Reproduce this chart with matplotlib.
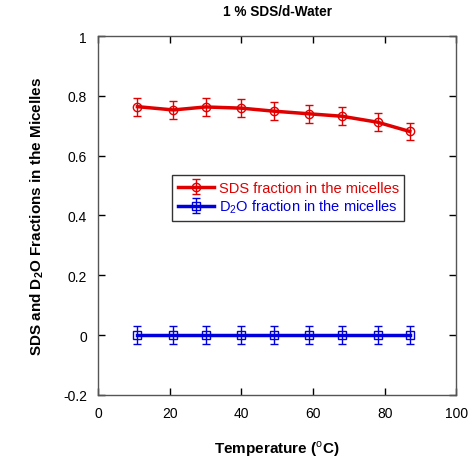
import matplotlib.pyplot as plt
import numpy as np

plt.rcParams["font.family"] = ["Liberation Sans", "DejaVu Sans"]
plt.rcParams["mathtext.fontset"] = "custom"
plt.rcParams["mathtext.rm"] = "Liberation Sans"
plt.rcParams["mathtext.bf"] = "Liberation Sans:bold"

temperature = [11, 21, 30, 40, 49, 59, 68, 78, 87]
sds_fraction = [0.764, 0.753, 0.763, 0.759, 0.749, 0.740, 0.732, 0.712, 0.681]
sds_err = [0.03] * 9
d2o_fraction = [0.0] * 9
d2o_err = [0.03] * 9

fig = plt.figure(figsize=(4.69, 4.64), dpi=100)
ax = fig.add_axes([0.209, 0.147, 0.764, 0.773])

ax.errorbar(temperature, sds_fraction, yerr=sds_err, color="#e00000",
            linewidth=2.5, marker="o", markersize=6, markerfacecolor="none",
            markeredgewidth=1.0, elinewidth=1.0, capsize=3, capthick=1.0,
            label="SDS fraction in the micelles")
ax.errorbar(temperature, d2o_fraction, yerr=d2o_err, color="#0000dd",
            linewidth=2.5, marker="s", markersize=6, markerfacecolor="none",
            markeredgewidth=1.0, elinewidth=1.0, capsize=3, capthick=1.0,
            label="D$_2$O fraction in the micelles")

ax.set_xlim(0, 100)
ax.set_ylim(-0.2, 1.0)
ax.set_xticks(np.arange(0, 101, 20))
ax.set_yticks(np.arange(-0.2, 1.01, 0.2))
ax.set_yticklabels(["-0.2", "0", "0.2", "0.4", "0.6", "0.8", "1"])
ax.tick_params(direction="in", top=True, right=True, length=5, width=1,
               labelsize=10, pad=8)
for s in ax.spines.values():
    s.set_color("#555555")
    s.set_linewidth(1.0)

ax.set_xlabel("Temperature ($^{\\mathrm{o}}$C)", fontsize=11, fontweight="bold",
              labelpad=13)
ax.set_ylabel("SDS and D$_{\\mathbf{2}}$O Fractions in the Micelles",
              fontsize=11, fontweight="bold", labelpad=12)
ax.set_title("1 % SDS/d-Water", fontsize=9.8, fontweight="bold", pad=15)

leg = ax.legend(loc="upper left", bbox_to_anchor=(0.206, 0.613),
                fontsize=10.5, frameon=True, fancybox=False,
                handlelength=2.5, handletextpad=0.3, borderpad=0.4,
                labelspacing=0.2, borderaxespad=0)
leg.get_frame().set_edgecolor("black")
leg.get_frame().set_linewidth(1.0)
for t, c in zip(leg.get_texts(), ["#e00000", "#0000dd"]):
    t.set_color(c)

fig.savefig("out.png", dpi=100)
